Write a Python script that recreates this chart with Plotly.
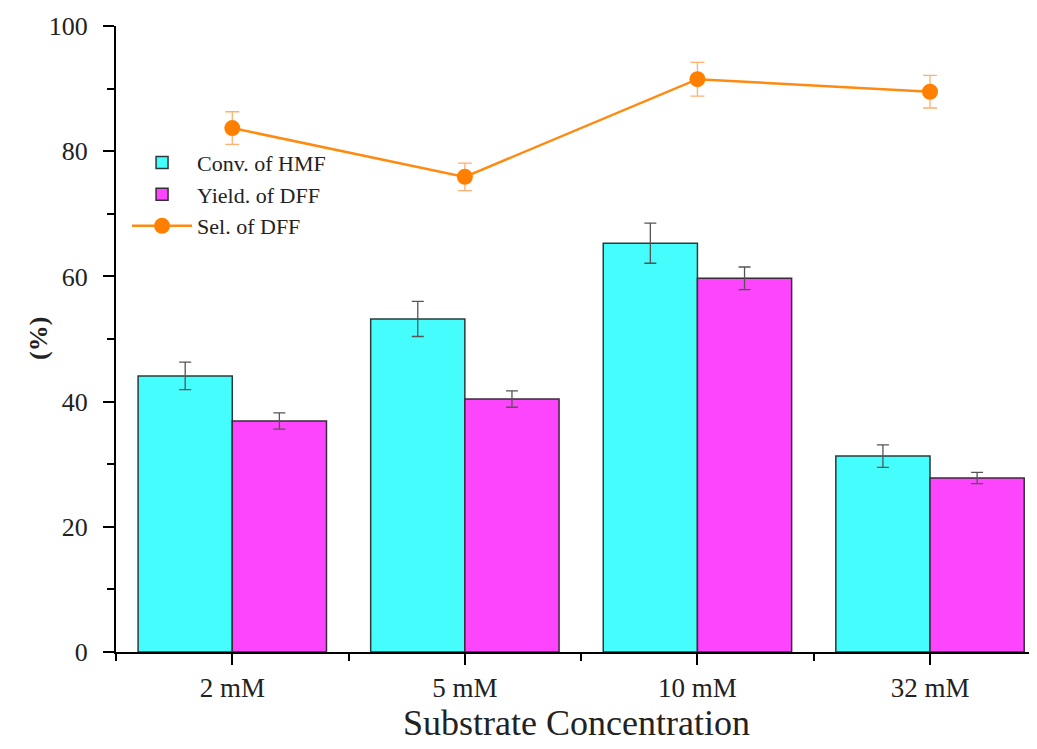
import plotly.graph_objects as go

categories = ["2 mM", "5 mM", "10 mM", "32 mM"]
conv_hmf = [44.1, 53.2, 65.3, 31.3]
conv_err = [2.2, 2.8, 3.2, 1.8]
yield_dff = [36.9, 40.4, 59.7, 27.8]
yield_err = [1.3, 1.3, 1.8, 0.9]
sel_dff = [83.7, 75.9, 91.5, 89.5]
sel_err = [2.6, 2.2, 2.7, 2.6]

xpos = list(range(len(categories)))
font_family = "Liberation Serif, Times New Roman, serif"

fig = go.Figure()
fig.add_trace(go.Bar(
    x=xpos, y=conv_hmf, name="Conv. of HMF",
    marker=dict(color="#45fdfd", line=dict(color="#2b3a3a", width=1.5)),
    error_y=dict(type="data", array=conv_err, color="#555555", thickness=1.3, width=6),
))
fig.add_trace(go.Bar(
    x=xpos, y=yield_dff, name="Yield. of DFF",
    marker=dict(color="#fd45fd", line=dict(color="#3a2b3a", width=1.5)),
    error_y=dict(type="data", array=yield_err, color="#555555", thickness=1.3, width=6),
))
fig.add_trace(go.Scatter(
    x=xpos, y=sel_dff, name="Sel. of DFF", mode="lines+markers",
    line=dict(color="#ff8a10", width=2.5),
    marker=dict(color="#ff8000", size=16),
    error_y=dict(type="data", array=sel_err, color="#ffb070", thickness=1.3, width=7),
))

# page body has an 8px margin; figure sized so the plot area lands as in the reference
fig.update_layout(
    width=1029, height=741,
    margin=dict(l=108, r=0, t=18, b=97, autoexpand=False),
    plot_bgcolor="white", paper_bgcolor="white",
    barmode="group", bargap=0.19, bargroupgap=0,
    font=dict(family=font_family, color="#111111"),
    legend=dict(
        x=0.012, y=0.815, xanchor="left", yanchor="top",
        font=dict(size=22, family=font_family, color="#222222"),
        bgcolor="rgba(0,0,0,0)", tracegroupgap=0, itemwidth=60,
    ),
    xaxis=dict(
        range=[-0.5, 3.46],
        tickmode="array", tickvals=xpos, ticktext=categories,
        ticks="outside", ticklen=11, tickwidth=2, tickcolor="black",
        ticklabelstandoff=0,
        tickfont=dict(size=27, family=font_family, color="#222222"),
        showline=True, linecolor="black", linewidth=2,
        showgrid=False, zeroline=False, automargin=False,
        minor=dict(tickmode="linear", tick0=0.5, dtick=1, ticks="outside",
                   ticklen=7, tickwidth=2, tickcolor="black", showgrid=False),
        title=dict(text="Substrate Concentration", font=dict(size=36, family=font_family, color="#222222"),
                   standoff=2),
    ),
    yaxis=dict(
        range=[0, 100],
        tickmode="linear", tick0=0, dtick=20,
        ticks="outside", ticklen=11, tickwidth=2, tickcolor="black",
        ticklabelstandoff=10,
        tickfont=dict(size=26, family=font_family, color="#222222"),
        showline=True, linecolor="black", linewidth=2,
        showgrid=False, zeroline=False, automargin=False,
        minor=dict(tickmode="linear", tick0=0, dtick=10, ticks="outside",
                   ticklen=7, tickwidth=2, tickcolor="black", showgrid=False),
    ),
    annotations=[dict(
        text="<b>(%)</b>", xref="paper", yref="paper", x=0, y=0.5,
        xanchor="center", yanchor="middle", xshift=-78, textangle=-90,
        showarrow=False, font=dict(size=26, family=font_family, color="#222222"),
    )],
)

fig.write_html("out.html")
